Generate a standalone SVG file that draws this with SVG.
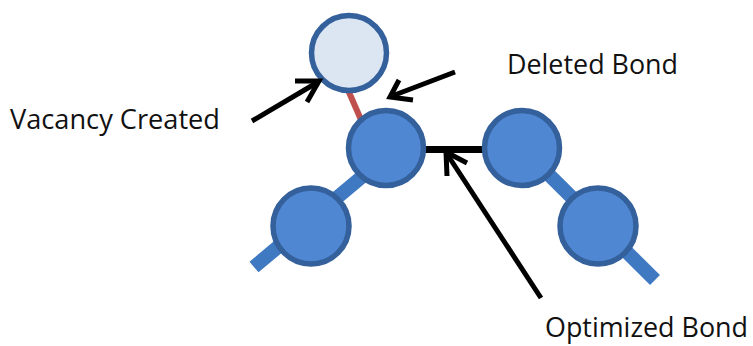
<svg xmlns="http://www.w3.org/2000/svg" width="753" height="346" viewBox="0 0 753 346">
  <style>
    .atom { fill: #4f87d3; stroke: #34609b; stroke-width: 5.5; }
    .vacancy { fill: #dce6f2; stroke: #34609b; stroke-width: 5.5; }
    .bond { stroke: #3f79c2; stroke-width: 14; fill: none; }
    .deleted { stroke: #c0504d; stroke-width: 6; fill: none; }
    .optimized { stroke: #000; stroke-width: 7; fill: none; }
    .pointer { stroke: #000; stroke-width: 5; fill: none; stroke-linecap: butt; stroke-linejoin: miter; }
    .label { font-family: "Open Sans", "Noto Sans", "Liberation Sans", sans-serif; font-size: 27px; fill: #111; }
  </style>
  <rect width="753" height="346" fill="#fff"/>

  <!-- bonds, drawn beneath the atoms -->
  <g id="connectors">
    <line class="bond" x1="254" y1="267" x2="382" y2="160"/>
    <line class="bond" x1="520" y1="146" x2="655" y2="280"/>
    <line class="deleted" x1="348" y1="90" x2="362" y2="122"/>
    <line class="optimized" x1="424" y1="149.5" x2="484" y2="149.5"/>
  </g>

  <g id="vacancy-site">
    <circle class="vacancy" cx="349" cy="53" r="37.5"/>
  </g>
  <g id="atom-center">
    <circle class="atom" cx="386" cy="148" r="37.5"/>
  </g>
  <g id="atom-lower-left">
    <circle class="atom" cx="311" cy="226" r="38"/>
  </g>
  <g id="atom-right">
    <circle class="atom" cx="522" cy="148" r="37.5"/>
  </g>
  <g id="atom-lower-right">
    <circle class="atom" cx="598" cy="226" r="38"/>
  </g>

  <!-- callout arrows -->
  <g id="arrow-vacancy">
    <line class="pointer" x1="252" y1="121" x2="318" y2="82"/>
    <polyline class="pointer" points="295,81 319,81 307,102"/>
  </g>
  <g id="arrow-deleted">
    <line class="pointer" x1="455" y1="72" x2="392" y2="96"/>
    <polyline class="pointer" points="399,80 390,97 413,100"/>
  </g>
  <g id="arrow-optimized">
    <line class="pointer" x1="541" y1="298" x2="447" y2="154"/>
    <polyline class="pointer" points="447,176 446,152 467,163"/>
  </g>

  <g id="label-vacancy">
    <text class="label" x="10" y="129" textLength="210" lengthAdjust="spacingAndGlyphs">Vacancy Created</text>
  </g>
  <g id="label-deleted">
    <text class="label" x="507" y="74" textLength="171" lengthAdjust="spacingAndGlyphs">Deleted Bond</text>
  </g>
  <g id="label-optimized">
    <text class="label" x="545" y="337" textLength="203" lengthAdjust="spacingAndGlyphs">Optimized Bond</text>
  </g>
</svg>
